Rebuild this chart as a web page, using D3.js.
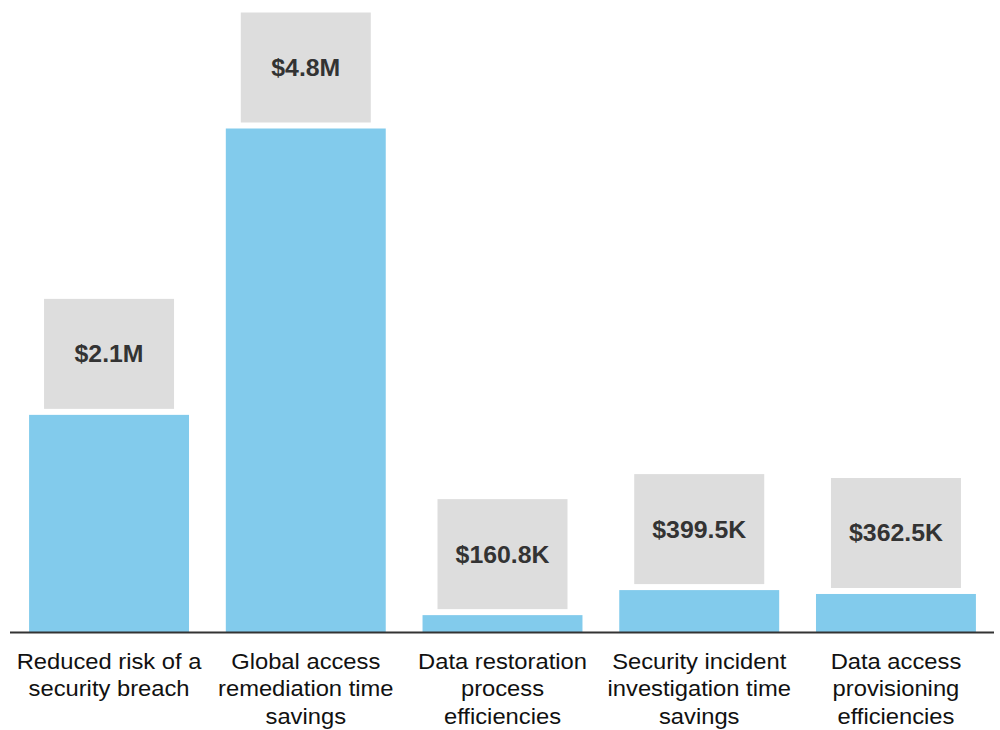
<!DOCTYPE html>
<html>
<head>
<meta charset="utf-8">
<script src="https://cdn.jsdelivr.net/npm/d3@7"></script>
<style>
	body { margin: 0; background: #fff; }
	text { font-family: "Liberation Sans", Arial, sans-serif; }
</style>
</head>
<body>
<div id="chart"></div>
<script>
var categories = [
	["Reduced risk of a", "security breach"],
	["Global access", "remediation time", "savings"],
	["Data restoration", "process", "efficiencies"],
	["Security incident", "investigation time", "savings"],
	["Data access", "provisioning", "efficiencies"]
];
var values = [2070000, 4800000, 160800, 399500, 362500];
var valueLabels = ["$2.1M", "$4.8M", "$160.8K", "$399.5K", "$362.5K"];

var width = 1000, height = 730;
var baseline = 632;
var stretch = 1.08; // text in the reference is a little wider than plain Arial

var svg = d3.select("#chart")
	.append("svg")
		.attr("width", width)
		.attr("height", height);

var x = d3.scaleBand()
	.domain(d3.range(values.length))
	.range([10, 995])
	.paddingInner(0.187)
	.paddingOuter(0.097);

var y = d3.scaleLinear()
	.domain([0, 4800000])
	.range([baseline, 128.5]);

var boxW = 130, boxH = 110, gap = 6;

var g = svg.selectAll("g.bar")
	.data(values)
	.enter().append("g")
		.attr("class", "bar");

g.append("rect")
	.attr("x", function(d, i) { return x(i); })
	.attr("y", function(d) { return y(d); })
	.attr("width", x.bandwidth())
	.attr("height", function(d) { return baseline - y(d); })
	.attr("fill", "#82cbec");

g.append("rect")
	.attr("x", function(d, i) { return x(i) + x.bandwidth() / 2 - boxW / 2; })
	.attr("y", function(d) { return y(d) - gap - boxH; })
	.attr("width", boxW)
	.attr("height", boxH)
	.attr("fill", "#dddddd");

g.append("text")
	.attr("transform", function(d, i) {
		return "translate(" + (x(i) + x.bandwidth() / 2) + "," + (y(d) - gap - boxH / 2 + 8.5) + ") scale(" + stretch + ",1)";
	})
	.attr("text-anchor", "middle")
	.attr("font-size", 23)
	.attr("font-weight", "bold")
	.attr("fill", "#333333")
	.text(function(d, i) { return valueLabels[i]; });

// axis line
svg.append("line")
	.attr("x1", 10).attr("x2", 994)
	.attr("y1", baseline + 0.5).attr("y2", baseline + 0.5)
	.attr("stroke", "#333333")
	.attr("stroke-width", 2);

// category labels
var lab = svg.selectAll("text.cat")
	.data(categories)
	.enter().append("text")
		.attr("class", "cat")
		.attr("text-anchor", "middle")
		.attr("font-size", 22)
		.attr("fill", "#111111")
		.attr("transform", function(d, i) {
			return "translate(" + (x(i) + x.bandwidth() / 2) + ",668.5) scale(" + stretch + ",1)";
		});

lab.selectAll("tspan")
	.data(function(d) { return d; })
	.enter().append("tspan")
		.attr("x", 0)
		.attr("dy", function(d, j) { return j === 0 ? 0 : 28; })
		.text(function(d) { return d; });
</script>
</body>
</html>
